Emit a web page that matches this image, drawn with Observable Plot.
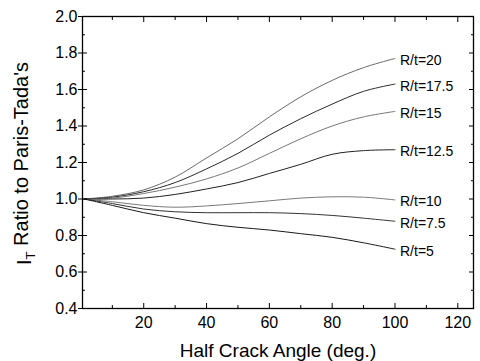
<!DOCTYPE html>
<html><head><meta charset="utf-8">
<script src="https://cdn.jsdelivr.net/npm/d3@7"></script>
<script src="https://cdn.jsdelivr.net/npm/@observablehq/plot@0.6"></script>
<style>
body{margin:0;background:#fff;}
svg{font-family:"Liberation Sans",Arial,sans-serif;}
</style>
</head><body><div id="chart"></div>
<script>
// Half crack angle (deg.)
const angles = [1, 10, 20, 30, 40, 50, 60, 70, 80, 90, 100];
// I_T ratio to Paris-Tada's, one array per R/t
const rt20   = [1.0, 1.015, 1.05, 1.12, 1.225, 1.33, 1.45, 1.56, 1.65, 1.72, 1.77];
const rt17_5 = [1.0, 1.01, 1.04, 1.09, 1.165, 1.25, 1.35, 1.44, 1.52, 1.59, 1.63];
const rt15   = [1.0, 1.005, 1.03, 1.065, 1.11, 1.17, 1.25, 1.33, 1.40, 1.45, 1.48];
const rt12_5 = [1.0, 1.0, 1.005, 1.025, 1.055, 1.09, 1.14, 1.19, 1.245, 1.265, 1.27];
const rt10   = [1.0, 0.985, 0.965, 0.955, 0.962, 0.975, 0.99, 1.005, 1.012, 1.01, 0.995];
const rt7_5  = [1.0, 0.975, 0.945, 0.93, 0.925, 0.925, 0.925, 0.92, 0.91, 0.895, 0.878];
const rt5    = [1.0, 0.965, 0.925, 0.895, 0.865, 0.845, 0.83, 0.81, 0.79, 0.76, 0.725];

const seriesNames = ["R/t=20", "R/t=17.5", "R/t=15", "R/t=12.5", "R/t=10", "R/t=7.5", "R/t=5"];
const seriesValues = [rt20, rt17_5, rt15, rt12_5, rt10, rt7_5, rt5];
const seriesColors = ["#6a6a6a", "#2a2a2a", "#777777", "#222222", "#7a7a7a", "#333333", "#1a1a1a"];

const xTickValues = [20, 40, 60, 80, 100, 120];
const xMinorValues = [10, 30, 50, 70, 90, 110];
const yTickValues = [0.4, 0.6, 0.8, 1.0, 1.2, 1.4, 1.6, 1.8, 2.0];
const yMinorValues = [0.5, 0.7, 0.9, 1.1, 1.3, 1.5, 1.7, 1.9];

const xTitle = "Half Crack Angle (deg.)";
const yTitle = "IT Ratio to Paris-Tada's";

const lines = seriesNames.map((name, k) =>
  Plot.line(angles.map((a, i) => ({angle: a, ratio: seriesValues[k][i]})), {
    x: "angle", y: "ratio", stroke: seriesColors[k], strokeWidth: 1, curve: "catmull-rom"
  })
);
const ends = seriesNames.map((name, k) => ({
  label: name, angle: angles[angles.length - 1], ratio: seriesValues[k][angles.length - 1]
}));
const blank = () => "";

const chart = Plot.plot({
  width: 480, height: 361,
  marginLeft: 82, marginRight: 7, marginTop: 16, marginBottom: 53,
  style: {background: "#fff", color: "#000", fontFamily: "'Liberation Sans', Arial, sans-serif"},
  x: {domain: [0.5, 125]},
  y: {domain: [0.4, 2.0]},
  marks: [
    ...lines,
    Plot.text(ends, {x: "angle", y: "ratio", text: "label", dx: 5, dy: 2, textAnchor: "start", fontSize: 14, fill: "#000"}),
    Plot.axisX({ticks: xTickValues, tickSize: 0, tickPadding: 8, fontSize: 16, label: null}),
    Plot.axisX({ticks: xTickValues, tickSize: -5, tickFormat: blank, label: null}),
    Plot.axisX({ticks: xMinorValues, tickSize: -3, tickFormat: blank, label: null}),
    Plot.axisX({anchor: "top", ticks: xTickValues, tickSize: -5, tickFormat: blank, label: null}),
    Plot.axisX({anchor: "top", ticks: xMinorValues, tickSize: -3, tickFormat: blank, label: null}),
    Plot.axisY({ticks: yTickValues, tickSize: 4, tickPadding: 1, fontSize: 16, tickFormat: ".1f", label: null}),
    Plot.axisY({ticks: yTickValues, tickSize: -5, tickFormat: blank, label: null}),
    Plot.axisY({ticks: yMinorValues, tickSize: -3, tickFormat: blank, label: null}),
    Plot.axisY({anchor: "right", ticks: yTickValues, tickSize: -5, tickFormat: blank, label: null}),
    Plot.axisY({anchor: "right", ticks: yMinorValues, tickSize: -3, tickFormat: blank, label: null}),
    Plot.frame({stroke: "#000", strokeWidth: 1.3}),
    Plot.text([xTitle], {frameAnchor: "bottom", dy: 42, fontSize: 19, fill: "#000", lineAnchor: "middle"}),
    Plot.text([yTitle], {frameAnchor: "left", dx: -58, dy: 1, rotate: -90, fontSize: 20, fill: "#000", textAnchor: "middle", lineAnchor: "middle"})
  ]
});
document.getElementById("chart").appendChild(chart);

// subscript T in the y title
d3.select(chart).selectAll("text").each(function() {
  if (this.textContent === yTitle) {
    const t = d3.select(this);
    t.text("");
    t.append("tspan").text("I");
    t.append("tspan").attr("dy", "0.35em").attr("font-size", "13").text("T");
    t.append("tspan").attr("dy", "-0.35em").text(" Ratio to Paris-Tada's");
  }
});
</script>
</body></html>
